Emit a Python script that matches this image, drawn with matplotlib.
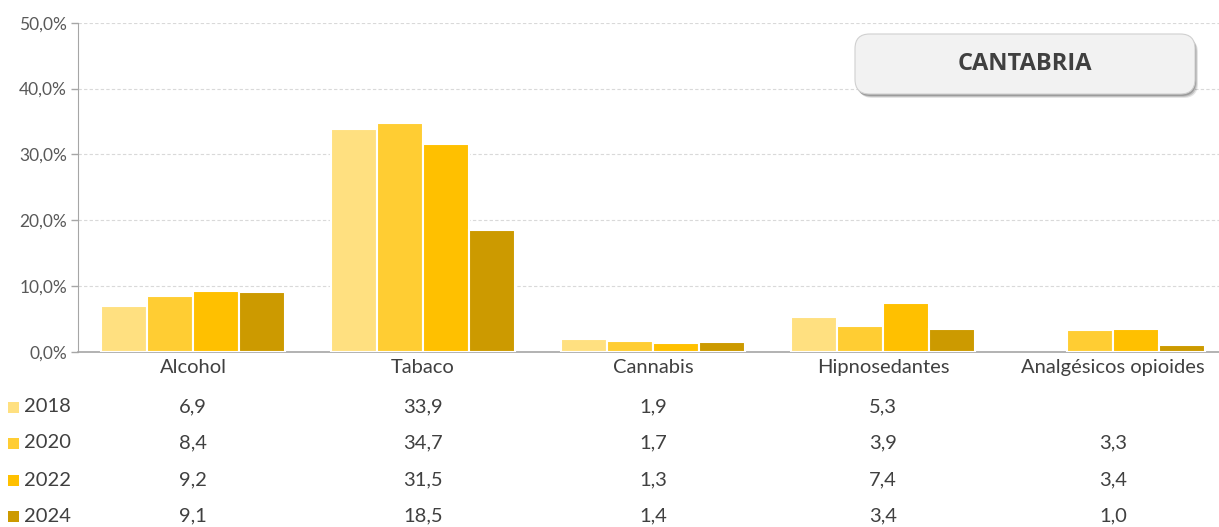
import matplotlib
matplotlib.use("Agg")
import matplotlib.pyplot as plt
import numpy as np
from matplotlib.patches import FancyBboxPatch, Rectangle
from matplotlib.transforms import blended_transform_factory
from matplotlib.ticker import FuncFormatter

categories = ["Alcohol", "Tabaco", "Cannabis", "Hipnosedantes", "Analgésicos opioides"]
years = ["2018", "2020", "2022", "2024"]
v2018 = [6.9, 33.9, 1.9, 5.3, np.nan]
v2020 = [8.4, 34.7, 1.7, 3.9, 3.3]
v2022 = [9.2, 31.5, 1.3, 7.4, 3.4]
v2024 = [9.1, 18.5, 1.4, 3.4, 1.0]
series = [v2018, v2020, v2022, v2024]
colors = ["#FFE080", "#FFCD33", "#FFC000", "#CC9A00"]
title = "CANTABRIA"

plt.rcParams['font.family'] = ['Lato', 'DejaVu Sans']
W, H = 1219, 527
fig = plt.figure(figsize=(W/100, H/100), dpi=100)
ax = fig.add_axes([78/W, 1-351.7/H, (1228-78)/W, (351.7-22.7)/H])

x = np.arange(len(categories))
bw = 0.2
for i, (vals, c) in enumerate(zip(series, colors)):
    ax.bar(x + (i-1.5)*bw, vals, width=bw, color=c, edgecolor="white", linewidth=1.5, zorder=3)

ax.set_xlim(-0.5, len(categories)-0.5)
ax.set_ylim(0, 50)
ax.set_yticks(np.arange(0, 51, 10))
ax.yaxis.set_major_formatter(FuncFormatter(lambda v, p: f"{v:.1f}%".replace(".", ",")))
ax.tick_params(axis='y', labelsize=12.5, colors="#595959", length=5, width=1, color="#A6A6A6", pad=3)
ax.set_xticks(x)
ax.set_xticklabels(categories)
ax.tick_params(axis='x', length=0, labelsize=14.5, colors="#404040", pad=5)
ax.grid(axis='y', color="#D9D9D9", linestyle=(0, (3, 2)), linewidth=0.8, zorder=0)
for s in ["top", "right"]:
    ax.spines[s].set_visible(False)
ax.spines["left"].set_color("#A6A6A6")
ax.spines["bottom"].set_color("#A6A6A6")
ax.spines["bottom"].set_linewidth(1.2)

# data table
row_y = [407, 443, 480, 516]
tr = blended_transform_factory(ax.transData, fig.transFigure)
for vals, yr, c, ry in zip(series, years, colors, row_y):
    yf = 1 - ry/H
    fig.patches.append(Rectangle((8/W, yf - 5.5/H), 11/W, 11/H, transform=fig.transFigure,
                                 facecolor=c, edgecolor="none"))
    fig.text(24/W, yf, yr, ha="left", va="center", fontsize=14.5, color="#404040")
    for xi, v in zip(x, vals):
        if not np.isnan(v):
            fig.text(xi, yf, f"{v:.1f}".replace(".", ","), transform=tr, ha="center", va="center",
                     fontsize=14.5, color="#404040")

# title box
bx0, by0, bx1, by1 = 855, 34, 1195, 94
for k, a in [(4, 0.10), (3, 0.15), (2, 0.2)]:
    sh = FancyBboxPatch(((bx0+k-1)/W, 1-(by1+k)/H), (bx1-bx0)/W, (by1-by0)/H,
                        boxstyle="round,pad=0,rounding_size=0.012", transform=fig.transFigure,
                        facecolor="#000000", alpha=a, edgecolor="none", mutation_aspect=W/H)
    fig.patches.append(sh)
box = FancyBboxPatch((bx0/W, 1-by1/H), (bx1-bx0)/W, (by1-by0)/H,
                     boxstyle="round,pad=0,rounding_size=0.012", transform=fig.transFigure,
                     facecolor="#F2F2F2", edgecolor="#D0D0D0", linewidth=0.8, mutation_aspect=W/H)
fig.patches.append(box)
fig.text((bx0+bx1)/2/W, 1-(by0+by1)/2/H, title, ha="center", va="center",
         fontsize=17, fontweight="bold", color="#404040", family=["Open Sans", "DejaVu Sans"])

fig.savefig("out.png", dpi=100)
